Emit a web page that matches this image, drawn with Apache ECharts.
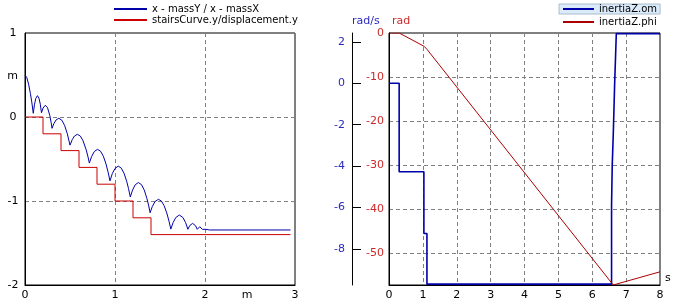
<!DOCTYPE html>
<html><head><meta charset="utf-8">
<script src="https://cdn.jsdelivr.net/npm/echarts@6.0.0/dist/echarts.min.js"></script>
<style>html,body{margin:0;padding:0;background:#fff}#c{width:675px;height:304px}</style>
</head><body><div id="c"></div>
<script>
// ---- left chart: trajectory x-y (m) ----
const massX = [0,0.02,0.04,0.06,0.075,0.092,
  0.105,0.12,0.138,0.155,0.17,0.183,
  0.20,0.226,0.25,0.275,0.29,0.30,
  0.32,0.345,0.376,0.41,0.44,0.47,0.50,
  0.525,0.55,0.582,0.615,0.645,0.68,0.70,0.715,
  0.74,0.77,0.806,0.84,0.87,0.90,0.925,0.944,
  0.97,1.0,1.036,1.07,1.10,1.13,1.15,1.17,
  1.195,1.225,1.26,1.295,1.325,1.355,1.375,1.39,
  1.415,1.445,1.482,1.515,1.545,1.575,1.60,1.62,
  1.645,1.675,1.715,1.755,1.785,1.81,
  1.83,1.845,1.862,1.88,1.895,1.914,
  1.925,1.942,1.96,1.97,
  1.99,2.01,2.05,2.95];
const massY = [0.5,0.47,0.39,0.28,0.18,0.044,
  0.145,0.222,0.254,0.225,0.152,0.05,
  0.106,0.14,0.111,0.021,-0.063,-0.135,
  -0.080,-0.035,-0.015,-0.039,-0.100,-0.199,-0.335,
  -0.269,-0.226,-0.206,-0.227,-0.283,-0.391,-0.475,-0.548,
  -0.471,-0.411,-0.385,-0.408,-0.466,-0.559,-0.664,-0.76,
  -0.674,-0.612,-0.585,-0.609,-0.669,-0.766,-0.851,-0.952,
  -0.870,-0.806,-0.78,-0.806,-0.87,-0.971,-1.06,-1.14,
  -1.064,-1.006,-0.98,-1.0,-1.054,-1.142,-1.24,-1.335,
  -1.258,-1.197,-1.167,-1.197,-1.258,-1.337,
  -1.293,-1.274,-1.266,-1.275,-1.295,-1.337,
  -1.317,-1.306,-1.319,-1.337,
  -1.328,-1.337,-1.345,-1.345];
const stairX = [0,0.2,0.4,0.6,0.8,1.0,1.2,1.4,2.95];
const stairY = [0,-0.2,-0.4,-0.6,-0.8,-1.0,-1.2,-1.4,-1.4];

// ---- right chart: time (s) ----
const omT = [0,0.3,0.3,1.03,1.03,1.12,1.12,6.57,6.57,6.59,6.62,6.66,6.71,8];
const omV = [0,0,-4.27,-4.27,-7.25,-7.25,-9.7,-9.7,-5.9,-3.95,-2.5,-0.1,2.4,2.4];
const phiT = [0,0.3,1.03,1.12,6.62,8];
const phiV = [0,0,-3.0,-3.7,-57.3,-54.3];

const omTicks = [2,0,-2,-4,-6,-8];
const phiTicks = [0,-10,-20,-30,-40,-50];

const names = ['x - massY / x - massX','stairsCurve.y/displacement.y','inertiaZ.om','inertiaZ.phi'];

const FONT = 'DejaVu Sans';
const BLUE = '#0000aa', RED = '#cc0000', PHI = '#aa0000';
const LBLUE = '#2a2ac0', LRED = '#cc2a2a';
const dashed = {show:true, lineStyle:{color:'#808080', type:[4,3], width:1}};
const legText = {fontFamily:FONT, fontSize:10, color:'#000'};

const chart = echarts.init(document.getElementById('c'), null, {renderer:'canvas'});
chart.setOption({
  animation:false,
  textStyle:{fontFamily:FONT},
  grid:[
    {left:25, top:33, width:270, height:252, show:true, borderColor:'#000', borderWidth:1},
    {left:389, top:33, width:271, height:252, show:true, borderColor:'#000', borderWidth:1}
  ],
  legend:[
    {data:[names[0],names[1]], orient:'vertical', left:113, top:4, padding:0,
     itemWidth:33, itemHeight:12, itemGap:1, selectedMode:false,
     itemStyle:{opacity:0}, textStyle:legText},
    {data:[names[2]], left:559, top:4, padding:[0,3,0,3], backgroundColor:'#dcebfa',
     borderColor:'#a8bccc', borderWidth:1, itemWidth:31, itemHeight:11, selectedMode:false,
     itemStyle:{opacity:0}, textStyle:legText},
    {data:[names[3]], left:562, top:17, padding:0, itemWidth:31, itemHeight:12, selectedMode:false,
     itemStyle:{opacity:0}, textStyle:legText}
  ],
  xAxis:[
    {type:'value', gridIndex:0, min:0, max:3, interval:1,
     name:'m', nameLocation:'end', nameGap:-48,
     nameTextStyle:{fontFamily:FONT, fontSize:11, color:'#000', align:'center', verticalAlign:'top', padding:[5,0,0,0]},
     axisLine:{show:true, onZero:false, lineStyle:{color:'#000'}}, axisTick:{show:false},
     axisLabel:{fontFamily:FONT, fontSize:11, color:'#000', margin:5},
     splitLine:dashed},
    {type:'value', gridIndex:1, min:0, max:8, interval:1,
     name:'s', nameLocation:'end', nameGap:5,
     nameTextStyle:{fontFamily:FONT, fontSize:11, color:'#000', align:'left', verticalAlign:'bottom', padding:[0,0,1,0]},
     axisLine:{show:true, onZero:false, lineStyle:{color:'#000'}}, axisTick:{show:false},
     axisLabel:{fontFamily:FONT, fontSize:11, color:'#000', margin:5},
     splitLine:dashed}
  ],
  yAxis:[
    {type:'value', gridIndex:0, min:-2, max:1, interval:1,
     name:'m', nameLocation:'end', nameGap:-43,
     nameTextStyle:{fontFamily:FONT, fontSize:11, color:'#000', align:'right', verticalAlign:'middle', padding:[0,7,0,0]},
     axisLine:{show:true, onZero:false, lineStyle:{color:'#000'}}, axisTick:{show:false},
     axisLabel:{fontFamily:FONT, fontSize:11, color:'#000', margin:12, align:'center'},
     splitLine:dashed},
    {type:'value', gridIndex:1, position:'left', offset:0, min:-57.3, max:0, splitNumber:5,
     name:'rad', nameLocation:'end', nameGap:6,
     nameTextStyle:{fontFamily:FONT, fontSize:11, color:LRED, align:'left', verticalAlign:'bottom', padding:[0,0,0,3]},
     axisLine:{show:true, onZero:false, lineStyle:{color:'#000'}}, axisTick:{show:false},
     axisLabel:{fontFamily:FONT, fontSize:11, color:LRED, margin:5,
       customValues:phiTicks,
       formatter:v => (phiTicks.indexOf(Math.round(v*1000)/1000) >= 0 ? String(v) : '')},
     splitLine:dashed},
    {type:'value', gridIndex:1, position:'left', offset:37, min:-9.74, max:2.43, splitNumber:5,
     name:'rad/s', nameLocation:'end', nameGap:6,
     nameTextStyle:{fontFamily:FONT, fontSize:11, color:LBLUE, align:'left', verticalAlign:'bottom'},
     axisLine:{show:true, onZero:false, lineStyle:{color:'#000'}},
     axisTick:{show:true, inside:true, length:9, customValues:omTicks, lineStyle:{color:'#000'}},
     axisLabel:{fontFamily:FONT, fontSize:11, color:LBLUE, margin:7,
       customValues:omTicks,
       formatter:v => (omTicks.indexOf(Math.round(v*1000)/1000) >= 0 ? String(v) : '')},
     splitLine:{show:false}}
  ],
  series:[
    {name:names[0], type:'line', xAxisIndex:0, yAxisIndex:0, symbol:'none', showSymbol:false,
     data:massX.map((x,i)=>[x,massY[i]]),
     lineStyle:{color:BLUE, width:1}, itemStyle:{color:BLUE}},
    {name:names[1], type:'line', xAxisIndex:0, yAxisIndex:0, symbol:'none', showSymbol:false, step:'end',
     data:stairX.map((x,i)=>[x,stairY[i]]),
     lineStyle:{color:RED, width:1}, itemStyle:{color:RED}},
    {name:names[2], type:'line', xAxisIndex:1, yAxisIndex:2, symbol:'none', showSymbol:false,
     data:omT.map((t,i)=>[t,omV[i]]),
     lineStyle:{color:BLUE, width:1.6}, itemStyle:{color:BLUE}},
    {name:names[3], type:'line', xAxisIndex:1, yAxisIndex:1, symbol:'none', showSymbol:false,
     data:phiT.map((t,i)=>[t,phiV[i]]),
     lineStyle:{color:PHI, width:1}, itemStyle:{color:PHI}}
  ]
});
</script>
</body></html>
